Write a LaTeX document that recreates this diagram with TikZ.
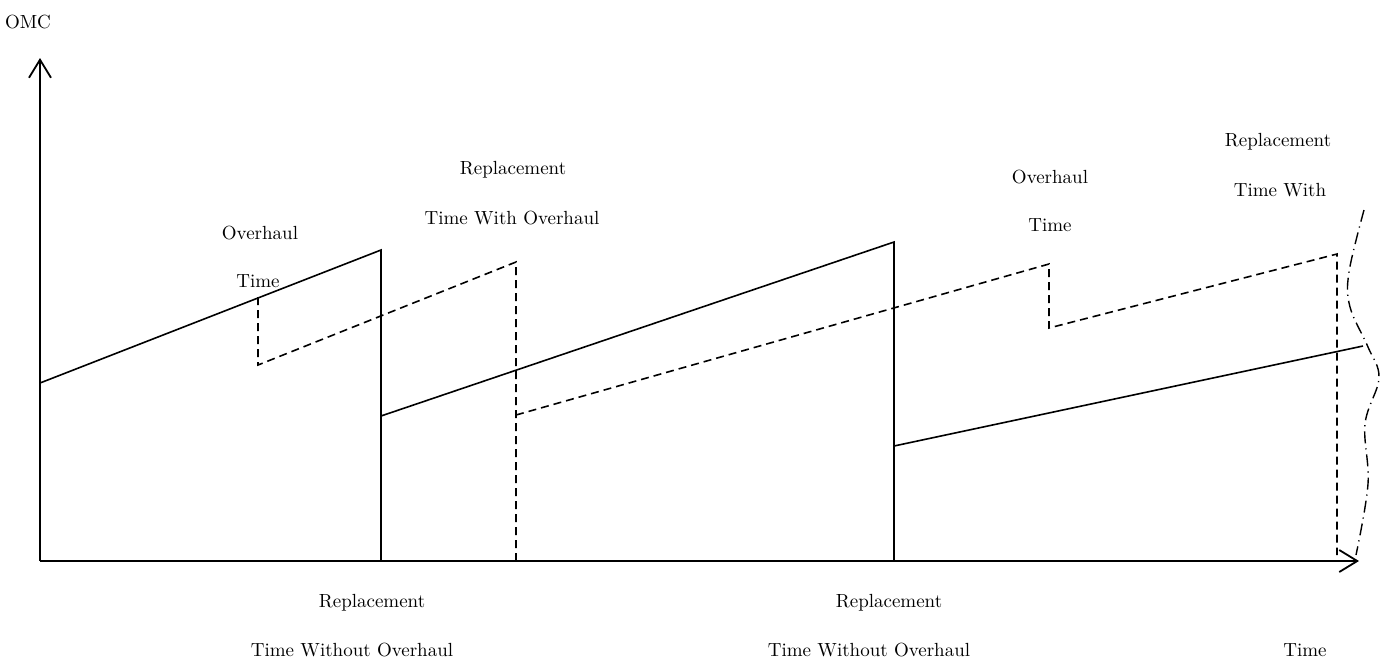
\documentclass[tikz,border=0pt]{standalone}
\usetikzlibrary{arrows.meta}

\tikzset{
    axisline/.style={line width=0.9pt, -{Straight Barb[length=9pt,width=11pt,line width=0.9pt]}},
    omcline/.style={line width=0.8pt},
    ohline/.style={line width=0.8pt, dash pattern=on 4pt off 2.5pt},
    limitline/.style={line width=0.7pt, dash pattern=on 6pt off 2.5pt on 0.6pt off 2.5pt},
    lbl/.style={inner sep=0pt, font=\fontsize{9.5}{11}\selectfont}
}

\begin{document}
\begin{tikzpicture}[x=0.5pt, y=-0.5pt]

    \useasboundingbox (0,0) rectangle (1388,661);

    % Axes
    \coordinate (O) at (40,561);
    \coordinate (ytip) at (40,58);
    \coordinate (xtip) at (1359,561);
    \draw[axisline] (O) -- (ytip);
    \draw[axisline] (O) -- (xtip);
    \node[lbl] (omc) at (28,22) {OMC};
    \node[lbl] (time) at (1305,650) {Time};

    % OMC without overhaul (solid)
    \coordinate (a0) at (40,383);
    \coordinate (a1) at (381,250);
    \coordinate (a1b) at (381,561);
    \coordinate (b0) at (381,416);
    \coordinate (b1) at (894,242);
    \coordinate (b1b) at (894,561);
    \coordinate (c0) at (894,446);
    \coordinate (c1) at (1363,346);
    \draw[omcline] (a0) -- (a1) -- (a1b);
    \draw[omcline] (b0) -- (b1) -- (b1b);
    \draw[omcline] (c0) -- (c1);

    % OMC with overhaul (dashed)
    \coordinate (d0) at (258,297);
    \coordinate (d1) at (258,365);
    \coordinate (d2) at (516,262);
    \coordinate (d3) at (516,561);
    \coordinate (e0) at (516,415);
    \coordinate (e1) at (1049,264);
    \coordinate (e2) at (1049,328);
    \coordinate (e3) at (1337,254);
    \coordinate (e4) at (1337,555);
    \draw[ohline] (d0) -- (d1) -- (d2) -- (d3);
    \draw[ohline] (e0) -- (e1) -- (e2) -- (e3) -- (e4);

    % break line
    \draw[limitline] plot[smooth, tension=0.6] coordinates {(1364,210) (1349,272) (1350,307) (1368,347) (1379,378) (1365,424) (1368,484) (1356,555)};

    % Labels
    \node[lbl] (oh1a) at (260,233) {Overhaul};
    \node[lbl] (oh1b) at (258,281) {Time};
    \node[lbl] (rw1a) at (513,170) {Replacement};
    \node[lbl] (rw1b) at (512,218) {Time With Overhaul};
    \node[lbl] (oh2a) at (1050,177) {Overhaul};
    \node[lbl] (oh2b) at (1050,225) {Time};
    \node[lbl] (rw2a) at (1278,142) {Replacement};
    \node[lbl] (rw2b) at (1280,190) {Time With};
    \node[lbl] (ro1a) at (372,603) {Replacement};
    \node[lbl] (ro1b) at (352,650) {Time Without Overhaul};
    \node[lbl] (ro2a) at (889,603) {Replacement};
    \node[lbl] (ro2b) at (869,650) {Time Without Overhaul};

\end{tikzpicture}
\end{document}
